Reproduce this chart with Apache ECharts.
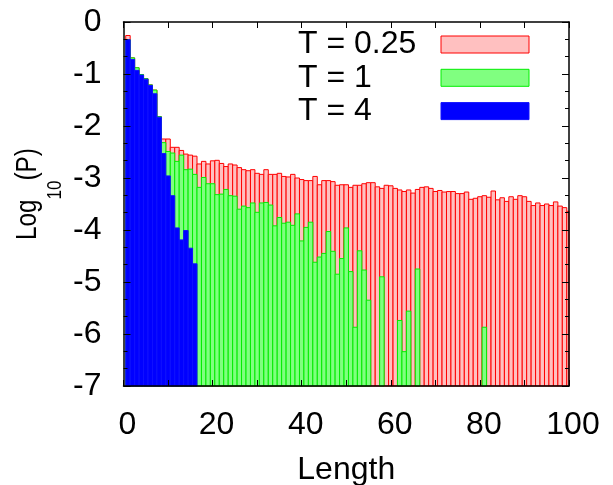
<!DOCTYPE html>
<html>
<head>
<meta charset="utf-8">
<script src="https://cdn.jsdelivr.net/npm/echarts@6/dist/echarts.min.js"></script>
<style>html,body{margin:0;padding:0;background:#fff}#c{width:613px;height:485px}</style>
</head>
<body>
<div id="c"></div>
<script>
// Lengths (x categories)
const lengths = [1,2,3,4,5,6,7,8,9,10,11,12,13,14,15,16,17,18,19,20,
21,22,23,24,25,26,27,28,29,30,31,32,33,34,35,36,37,38,39,40,
41,42,43,44,45,46,47,48,49,50,51,52,53,54,55,56,57,58,59,60,
61,62,63,64,65,66,67,68,69,70,71,72,73,74,75,76,77,78,79,80,
81,82,83,84,85,86,87,88,89,90,91,92,93,94,95,96,97,98,99,100];

const seriesNames = ['T = 0.25', 'T = 1', 'T = 4'];

// log10(P) for T = 0.25
const logP_T025 = [-0.26,-0.69,-0.88,-1.01,-1.09,-1.21,-1.31,-1.82,-2.25,-2.25,
-2.41,-2.41,-2.47,-2.54,-2.56,-2.58,-2.73,-2.68,-2.73,-2.67,
-2.66,-2.72,-2.78,-2.73,-2.75,-2.80,-2.84,-2.86,-2.84,-2.91,
-2.93,-2.84,-2.93,-2.93,-2.91,-2.97,-2.98,-2.93,-3.00,-3.03,
-3.05,-3.05,-2.97,-3.13,-3.05,-3.05,-3.07,-3.14,-3.13,-3.13,
-3.18,-3.14,-3.14,-3.11,-3.09,-3.09,-3.17,-3.20,-3.14,-3.15,
-3.20,-3.23,-3.26,-3.23,-3.29,-3.22,-3.18,-3.17,-3.20,-3.26,
-3.24,-3.27,-3.26,-3.26,-3.30,-3.30,-3.27,-3.41,-3.39,-3.36,
-3.34,-3.37,-3.25,-3.42,-3.38,-3.45,-3.36,-3.41,-3.34,-3.36,
-3.45,-3.53,-3.48,-3.53,-3.50,-3.53,-3.46,-3.54,-3.57,-3.64];

// log10(P) for T = 1 (null = no occurrence)
const logP_T1 = [-0.34,-0.69,-0.88,-1.01,-1.09,-1.21,-1.31,-1.82,-2.32,-2.49,
-2.52,-2.68,-2.56,-2.84,-2.83,-2.93,-3.18,-2.99,-3.11,-3.11,
-3.32,-3.31,-3.22,-3.34,-3.35,-3.60,-3.54,-3.57,-3.48,-3.66,
-3.48,-3.47,-3.52,-3.92,-3.76,-3.87,-3.85,-3.91,-3.69,-4.21,
-3.95,-3.85,-4.62,-4.52,-4.45,-4.03,-4.41,-4.85,-4.55,-3.96,
-4.80,-5.87,-4.40,-4.77,-5.35,null,null,-4.90,null,null,
null,-5.74,-6.34,-5.56,null,-4.75,null,null,null,null,
null,null,null,null,null,null,null,null,null,null,
-5.87,null,null,null,null,null,null,null,null,null,
null,null,null,null,null,null,null,null,null,null];

// log10(P) for T = 4
const logP_T4 = [-0.34,-0.72,-0.93,-1.02,-1.10,-1.22,-1.38,-1.83,-2.53,-2.96,
-3.34,-3.96,-4.19,-4.01,-4.35,-4.65,null,null,null,null,
null,null,null,null,null,null,null,null,null,null,
null,null,null,null,null,null,null,null,null,null,
null,null,null,null,null,null,null,null,null,null,
null,null,null,null,null,null,null,null,null,null,
null,null,null,null,null,null,null,null,null,null,
null,null,null,null,null,null,null,null,null,null,
null,null,null,null,null,null,null,null,null,null,
null,null,null,null,null,null,null,null,null,null];

const X_MIN = 0, X_MAX = 100, X_STEP = 20;
const Y_MIN = -7, Y_MAX = 0, Y_STEP = 1;

const FONT = '"Liberation Sans", Arial, Helvetica, sans-serif';
const colors = [
  {fill: '#ffc0c0', stroke: '#ff0000'},
  {fill: '#80ff80', stroke: '#00ee00'},
  {fill: '#0000ff', stroke: '#1010ff'}
];

function toData(vals) {
  const out = [];
  vals.forEach((v, i) => { if (v !== null) out.push([lengths[i], v]); });
  return out;
}

function makeSeries(name, vals, c) {
  return {
    type: 'custom',
    name: name,
    xAxisIndex: 0,
    yAxisIndex: 0,
    data: toData(vals),
    itemStyle: {color: c.fill, borderColor: c.stroke, borderWidth: 1},
    z: 2,
    renderItem: function (params, api) {
      const L = api.value(0), v = api.value(1);
      const p1 = api.coord([L - 0.5, v]);
      const p2 = api.coord([L + 0.5, Y_MIN]);
      const cs = params.coordSys;
      const shape = echarts.graphic.clipRectByRect(
        {x: p1[0], y: p1[1], width: p2[0] - p1[0], height: p2[1] - p1[1]},
        {x: cs.x, y: cs.y, width: cs.width, height: cs.height});
      if (!shape) return null;
      return {type: 'rect', shape: shape, style: {fill: c.fill, stroke: c.stroke, lineWidth: 1}};
    }
  };
}

// text measurement for the rotated y-axis title pieces
const mctx = document.createElement('canvas').getContext('2d');
function textW(t, size) { mctx.font = size + 'px ' + FONT; return mctx.measureText(t).width; }
const YT_MAIN = 30, YT_SUB = 21;
const wLog = textW('Log', YT_MAIN);
const wSub = textW('10', YT_SUB);

const axisLine = {show: true, onZero: false, lineStyle: {color: '#000', width: 1.5}};

const chart = echarts.init(document.getElementById('c'));
chart.setOption({
  animation: false,
  backgroundColor: '#fff',
  grid: {left: 123.5, right: 44, top: 22, bottom: 99, containLabel: false, outerBoundsMode: 'none'},
  xAxis: [{
    type: 'value', position: 'bottom', min: X_MIN, max: X_MAX, interval: X_STEP, z: 10,
    axisLine: axisLine,
    axisTick: {show: true, inside: true, length: 6, lineStyle: {color: '#000', width: 1}},
    minorTick: {show: true, splitNumber: 2, length: 6, lineStyle: {color: '#000', width: 1}},
    splitLine: {show: false},
    axisLabel: {color: '#000', fontFamily: FONT, fontSize: 32, margin: 23, padding: [0, 0, 0, 8]},
    name: 'Length', nameLocation: 'middle', nameGap: 68, nameMoveOverlap: false,
    nameTextStyle: {color: '#000', fontFamily: FONT, fontSize: 32}
  }, {
    type: 'value', position: 'top', min: X_MIN, max: X_MAX, interval: X_STEP, z: 10,
    axisLine: axisLine,
    axisTick: {show: true, inside: true, length: 6, lineStyle: {color: '#000', width: 1}},
    minorTick: {show: true, splitNumber: 2, length: 6, lineStyle: {color: '#000', width: 1}},
    splitLine: {show: false},
    axisLabel: {show: false}
  }],
  yAxis: [{
    type: 'value', position: 'left', min: Y_MIN, max: Y_MAX, interval: Y_STEP, z: 10,
    axisLine: axisLine,
    axisTick: {show: true, inside: true, length: 7, lineStyle: {color: '#000', width: 1}},
    minorTick: {show: true, splitNumber: 3, length: 4, lineStyle: {color: '#000', width: 1}},
    splitLine: {show: false},
    axisLabel: {color: '#000', fontFamily: FONT, fontSize: 32, margin: 22}
  }, {
    type: 'value', position: 'right', min: Y_MIN, max: Y_MAX, interval: Y_STEP, z: 10,
    axisLine: axisLine,
    axisTick: {show: true, inside: true, length: 7, lineStyle: {color: '#000', width: 1}},
    minorTick: {show: true, splitNumber: 3, length: 4, lineStyle: {color: '#000', width: 1}},
    splitLine: {show: false},
    axisLabel: {show: false}
  }],
  legend: {
    orient: 'vertical', left: 298, top: 28.5, padding: 0,
    align: 'right', icon: 'rect', itemWidth: 88, itemHeight: 17, itemGap: 1.3,
    selectedMode: false,
    data: seriesNames.map((n, i) => ({
      name: n,
      itemStyle: {color: colors[i].fill, borderColor: colors[i].stroke, borderWidth: 1}
    })),
    formatter: function (name) { return '{t|' + name + '}'; },
    textStyle: {
      color: '#000',
      rich: {t: {width: 138, align: 'left', fontSize: 32, lineHeight: 17, fontFamily: FONT, color: '#000'}}
    }
  },
  graphic: [{
    type: 'group',
    x: 0, y: 240,
    rotation: Math.PI / 2,
    scaleX: 0.81,
    children: [
      {type: 'text', x: 0, y: 12.3,
       style: {text: 'Log', align: 'left', verticalAlign: 'top', fontSize: YT_MAIN, fontFamily: FONT, fill: '#000'}},
      {type: 'text', x: wLog, y: 45.1,
       style: {text: '10', align: 'left', verticalAlign: 'top', fontSize: YT_SUB, fontFamily: FONT, fill: '#000'}},
      {type: 'text', x: wLog + wSub, y: 12.3,
       style: {text: '(P)', align: 'left', verticalAlign: 'top', fontSize: YT_MAIN, fontFamily: FONT, fill: '#000'}}
    ]
  }],
  series: [
    makeSeries(seriesNames[0], logP_T025, colors[0]),
    makeSeries(seriesNames[1], logP_T1, colors[1]),
    makeSeries(seriesNames[2], logP_T4, colors[2])
  ]
});
</script>
</body>
</html>
